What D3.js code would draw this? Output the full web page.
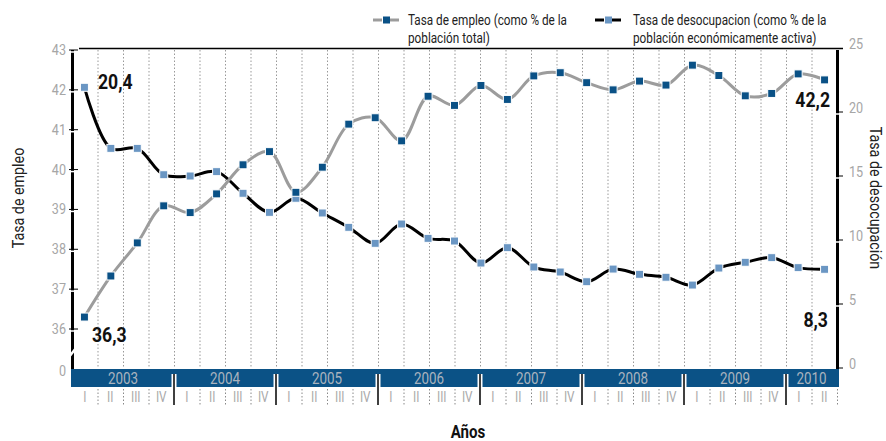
<!DOCTYPE html>
<html>
<head>
<meta charset="utf-8">
<script src="https://cdn.jsdelivr.net/npm/d3@7"></script>
<style>
  body { margin: 0; background: #fff; }
  svg { font-family: Roboto, "Liberation Sans", sans-serif; }
</style>
</head>
<body>
<div id="chart"></div>
<script>
// quarters of the data (2003 I .. 2010 I)
const periods = ['2003-I','2003-II','2003-III','2003-IV','2004-I','2004-II','2004-III','2004-IV',
  '2005-I','2005-II','2005-III','2005-IV','2006-I','2006-II','2006-III','2006-IV',
  '2007-I','2007-II','2007-III','2007-IV','2008-I','2008-II','2008-III','2008-IV',
  '2009-I','2009-II','2009-III','2009-IV','2010-I'];

// Tasa de empleo (% poblacion total) - left axis
const empleo = [36.3, 37.33, 38.16, 39.09, 38.92, 39.39, 40.12, 40.45,
  39.43, 40.06, 41.14, 41.3, 40.72, 41.84, 41.61, 42.11,
  41.76, 42.35, 42.43, 42.18, 42.0, 42.22, 42.12, 42.62,
  42.36, 41.85, 41.91, 42.4, 42.25];

// Tasa de desocupacion (% PEA) - right axis, as drawn
const desocupacion = [21.93, 17.16, 17.16, 15.1, 15.0, 15.34, 13.65, 12.16,
  13.26, 12.11, 10.99, 9.74, 11.25, 10.13, 9.92, 8.2,
  9.4, 7.89, 7.5, 6.74, 7.73, 7.32, 7.09, 6.48,
  7.81, 8.26, 8.62, 7.84, 7.71];

// axis categories
const years = ['2003','2004','2005','2006','2007','2008','2009','2010'];
const quartersPerYear = [4, 4, 4, 4, 4, 4, 4, 2];
const romanos = ['I','II','III','IV'];
const leftTicks = [36, 37, 38, 39, 40, 41, 42, 43];
const rightTicks = [0, 5, 10, 15, 20, 25];

const W = 886, H = 441;
const plotL = 72, plotR = 837, plotT = 50, zeroY = 368;
const SX = 0.84; // condensed look
const tr = (x, y, rot) => `translate(${x},${y})${rot ? ` rotate(${rot})` : ''} scale(${SX},1)`;

const svg = d3.select('#chart').append('svg')
  .attr('width', W)
  .attr('height', H);

// axis quarters (2003 I .. 2010 II)
const axisQuarters = [];
years.forEach((y, i) => {
  for (let q = 0; q < quartersPerYear[i]; q++) axisQuarters.push({ year: y, q: q, id: y + '-' + romanos[q] });
});

const xBand = d3.scaleBand().domain(axisQuarters.map(d => d.id)).range([plotL, plotR]);
const xPt = d3.scalePoint().domain(periods).range([plotL, plotR]).padding(0.47);
const yLeft = d3.scaleLinear().domain([36, 43]).range([329, plotT]);
const yRight = d3.scaleLinear().domain([0, 25]).range([zeroY, 48]);

// dotted grid
svg.append('g')
  .selectAll('line')
  .data(axisQuarters.slice(1))
  .enter().append('line')
  .attr('x1', d => xBand(d.id) + 0.5)
  .attr('x2', d => xBand(d.id) + 0.5)
  .attr('y1', plotT)
  .attr('y2', zeroY)
  .attr('stroke', '#999')
  .attr('stroke-width', 1)
  .attr('stroke-dasharray', '1.5,2');

// top border
svg.append('line')
  .attr('x1', 79).attr('x2', 843)
  .attr('y1', 48.5).attr('y2', 48.5)
  .attr('stroke', '#000').attr('stroke-width', 1.5);

// year band
svg.append('rect')
  .attr('x', plotL - 1).attr('y', 369)
  .attr('width', plotR - plotL + 3).attr('height', 18)
  .attr('fill', '#0b5286');

const yearStart = [];
let acc = 0;
years.forEach((y, i) => { yearStart.push(acc); acc += quartersPerYear[i]; });

svg.append('g')
  .selectAll('text')
  .data(years)
  .enter().append('text')
  .attr('transform', (d, i) => {
    const a = xBand(axisQuarters[yearStart[i]].id);
    const b = xBand(axisQuarters[yearStart[i] + quartersPerYear[i] - 1].id) + xBand.bandwidth();
    return tr((a + b) / 2, 384);
  })
  .attr('text-anchor', 'middle')
  .attr('font-size', 16)
  .attr('fill', '#a9b3be')
  .text(d => d);

// quarter labels
svg.append('g')
  .selectAll('text')
  .data(axisQuarters)
  .enter().append('text')
  .attr('transform', d => tr(xBand(d.id) + xBand.bandwidth() / 2, 402))
  .attr('text-anchor', 'middle')
  .attr('font-size', 14)
  .attr('fill', '#aaa')
  .text(d => romanos[d.q]);

// separators in label row
const sepQuarters = axisQuarters.slice(1).concat([{ id: 'end', q: -1 }]);
svg.append('g')
  .selectAll('line')
  .data(sepQuarters.filter(d => d.q !== 0))
  .enter().append('line')
  .attr('x1', d => (d.id === 'end' ? plotR : xBand(d.id)) + 0.5)
  .attr('x2', d => (d.id === 'end' ? plotR : xBand(d.id)) + 0.5)
  .attr('y1', 389).attr('y2', 405)
  .attr('stroke', '#888')
  .attr('stroke-dasharray', '1.5,2');

const yearSeps = axisQuarters.filter((d, i) => i > 0 && d.q === 0);
svg.append('g')
  .selectAll('line')
  .data(yearSeps)
  .enter().append('line')
  .attr('x1', d => xBand(d.id)).attr('x2', d => xBand(d.id))
  .attr('y1', 374).attr('y2', 387)
  .attr('stroke', '#fff').attr('stroke-width', 5);
svg.append('g')
  .selectAll('line')
  .data(yearSeps)
  .enter().append('line')
  .attr('x1', d => xBand(d.id)).attr('x2', d => xBand(d.id))
  .attr('y1', 374).attr('y2', 405)
  .attr('stroke', '#000').attr('stroke-width', 1.5);

// left axis
svg.append('line')
  .attr('x1', plotL + 0.5).attr('x2', plotL + 0.5)
  .attr('y1', plotT).attr('y2', 369)
  .attr('stroke', '#000').attr('stroke-width', 3);
// axis break
svg.append('line')
  .attr('x1', 69).attr('y1', 357).attr('x2', 76).attr('y2', 348)
  .attr('stroke', '#fff').attr('stroke-width', 2.5);

const lt = svg.append('g')
  .selectAll('g')
  .data(leftTicks)
  .enter().append('g')
  .attr('transform', d => `translate(0,${yLeft(d)})`);
lt.append('line').attr('x1', 70).attr('x2', 76).attr('y1', 2).attr('y2', 2)
  .attr('stroke', '#fff').attr('stroke-width', 1.5);
lt.append('line').attr('x1', 69).attr('x2', 78).attr('y1', 0).attr('y2', 0)
  .attr('stroke', '#000').attr('stroke-width', 1);
lt.append('text').attr('transform', tr(66, 5))
  .attr('text-anchor', 'end').attr('font-size', 15).attr('fill', '#a6a6a6')
  .text(d => d);
svg.append('text').attr('transform', tr(66, 376))
  .attr('text-anchor', 'end').attr('font-size', 15).attr('fill', '#a6a6a6')
  .text('0');

// right axis
svg.append('line')
  .attr('x1', plotR + 0.5).attr('x2', plotR + 0.5)
  .attr('y1', plotT).attr('y2', 369)
  .attr('stroke', '#000').attr('stroke-width', 3);
const rt = svg.append('g')
  .selectAll('g')
  .data(rightTicks)
  .enter().append('g')
  .attr('transform', d => `translate(0,${yRight(d)})`);
rt.filter(d => d > 0 && d < 25).append('line').attr('x1', 835).attr('x2', 841).attr('y1', 2).attr('y2', 2)
  .attr('stroke', '#fff').attr('stroke-width', 1.5);
rt.filter(d => d < 25).append('line').attr('x1', 836).attr('x2', 843).attr('y1', 0).attr('y2', 0)
  .attr('stroke', '#000').attr('stroke-width', 1);
rt.append('text').attr('transform', tr(849, 1))
  .attr('font-size', 15).attr('fill', '#a6a6a6')
  .text(d => d);

// lines
const lineEmp = d3.line()
  .x((d, i) => xPt(periods[i]))
  .y(d => yLeft(d))
  .curve(d3.curveCatmullRom.alpha(0.5));
const lineDes = d3.line()
  .x((d, i) => xPt(periods[i]))
  .y(d => yRight(d))
  .curve(d3.curveCatmullRom.alpha(0.5));

svg.append('path').datum(desocupacion)
  .attr('d', lineDes).attr('fill', 'none')
  .attr('stroke', '#000').attr('stroke-width', 3);
svg.append('path').datum(empleo)
  .attr('d', lineEmp).attr('fill', 'none')
  .attr('stroke', '#9c9c9c').attr('stroke-width', 3);

const sq = 8;
svg.append('g').selectAll('rect')
  .data(desocupacion)
  .enter().append('rect')
  .attr('x', (d, i) => xPt(periods[i]) - sq / 2)
  .attr('y', d => yRight(d) - sq / 2)
  .attr('width', sq).attr('height', sq)
  .attr('fill', '#6a96c3').attr('stroke', '#fff').attr('stroke-width', 1);
svg.append('g').selectAll('rect')
  .data(empleo)
  .enter().append('rect')
  .attr('x', (d, i) => xPt(periods[i]) - sq / 2)
  .attr('y', d => yLeft(d) - sq / 2)
  .attr('width', sq).attr('height', sq)
  .attr('fill', '#0a5186').attr('stroke', '#fff').attr('stroke-width', 1);

// value annotations
const notes = [
  { t: '20,4', x: 98, y: 89, a: 'start' },
  { t: '36,3', x: 92, y: 342, a: 'start' },
  { t: '42,2', x: 830, y: 107, a: 'end' },
  { t: '8,3', x: 828, y: 327, a: 'end' }
];
svg.append('g').selectAll('text')
  .data(notes)
  .enter().append('text')
  .attr('transform', d => tr(d.x, d.y))
  .attr('text-anchor', d => d.a)
  .attr('font-size', 21).attr('font-weight', 'bold').attr('fill', '#111')
  .text(d => d.t);

// axis titles
svg.append('text')
  .attr('transform', 'translate(24,198) rotate(-90) scale(' + SX + ',1)')
  .attr('text-anchor', 'middle').attr('font-size', 17).attr('fill', '#222')
  .text('Tasa de empleo');
svg.append('text')
  .attr('transform', 'translate(870,198) rotate(90) scale(' + SX + ',1)')
  .attr('text-anchor', 'middle').attr('font-size', 17).attr('fill', '#222')
  .text('Tasa de desocupación');
svg.append('text')
  .attr('transform', tr(468, 438))
  .attr('text-anchor', 'middle').attr('font-size', 18).attr('font-weight', 'bold').attr('fill', '#111')
  .text('Años');

// legend
const legend = [
  { x: 373, tx: 35, lines: ['Tasa de empleo (como % de la', 'población total)'], stroke: '#9c9c9c', fill: '#0a5186' },
  { x: 595, tx: 38, lines: ['Tasa de desocupacion (como % de la', 'población económicamente activa)'], stroke: '#000', fill: '#6a96c3' }
];
const lg = svg.append('g').selectAll('g')
  .data(legend)
  .enter().append('g')
  .attr('transform', d => `translate(${d.x},20)`);
lg.append('line').attr('x1', 0).attr('x2', 9).attr('y1', 0).attr('y2', 0)
  .attr('stroke', d => d.stroke).attr('stroke-width', 3);
lg.append('line').attr('x1', 17).attr('x2', 26).attr('y1', 0).attr('y2', 0)
  .attr('stroke', d => d.stroke).attr('stroke-width', 3);
lg.append('rect').attr('x', 10).attr('y', -3.5).attr('width', 7).attr('height', 7)
  .attr('fill', d => d.fill);
lg.each(function(d) {
  const g = d3.select(this);
  d.lines.forEach((l, i) => {
    g.append('text')
      .attr('transform', tr(d.tx, 5 + i * 18))
      .attr('font-size', 14).attr('fill', '#222')
      .text(l);
  });
});
</script>
</body>
</html>
